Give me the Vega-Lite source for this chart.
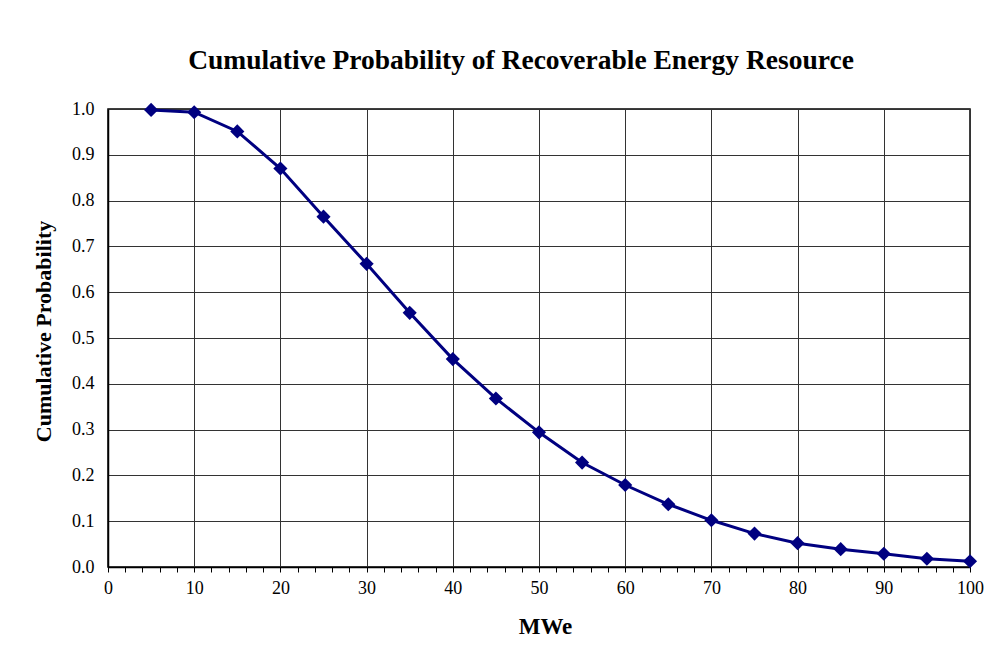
{
  "$schema": "https://vega.github.io/schema/vega-lite/v6.json",
  "autosize": {"type": "none"},
  "width": 862,
  "height": 458,
  "padding": {"left": 108, "top": 109, "right": 35, "bottom": 83},
  "background": "white",
  "config": {
    "view": {"stroke": "#000000", "strokeWidth": 1.5},
    "font": "Liberation Serif"
  },
  "title": {
    "text": "Cumulative Probability of Recoverable Energy Resource",
    "font": "Liberation Serif",
    "fontSize": 27.5,
    "fontWeight": "bold",
    "color": "#000000",
    "anchor": "middle",
    "dx": -18,
    "offset": 26
  },
  "data": {
    "values": [
      {"mwe": 5, "p": 0.998},
      {"mwe": 10, "p": 0.993},
      {"mwe": 15, "p": 0.951},
      {"mwe": 20, "p": 0.870},
      {"mwe": 25, "p": 0.765},
      {"mwe": 30, "p": 0.662},
      {"mwe": 35, "p": 0.555},
      {"mwe": 40, "p": 0.454},
      {"mwe": 45, "p": 0.368},
      {"mwe": 50, "p": 0.294},
      {"mwe": 55, "p": 0.228},
      {"mwe": 60, "p": 0.179},
      {"mwe": 65, "p": 0.137},
      {"mwe": 70, "p": 0.102},
      {"mwe": 75, "p": 0.073},
      {"mwe": 80, "p": 0.052},
      {"mwe": 85, "p": 0.039},
      {"mwe": 90, "p": 0.029},
      {"mwe": 95, "p": 0.018},
      {"mwe": 100, "p": 0.0125}
    ]
  },
  "encoding": {
    "x": {
      "field": "mwe",
      "type": "quantitative",
      "scale": {"domain": [0, 100], "nice": false},
      "axis": {
        "title": "MWe",
        "titleFont": "Liberation Serif",
        "titleFontSize": 23,
        "titleFontWeight": "bold",
        "titleColor": "#000000",
        "titlePadding": 18,
        "titleX": 437,
        "values": [0,2,4,6,8,10,12,14,16,18,20,22,24,26,28,30,32,34,36,38,40,42,44,46,48,50,52,54,56,58,60,62,64,66,68,70,72,74,76,78,80,82,84,86,88,90,92,94,96,98,100],
        "labelExpr": "datum.value % 10 === 0 ? datum.label : ''",
        "labelFont": "Liberation Serif",
        "labelFontSize": 18,
        "labelColor": "#000000",
        "labelPadding": 7,
        "labelFlush": false,
        "labelOverlap": false,
        "ticks": true,
        "tickSize": 5,
        "tickColor": "#000000",
        "domainColor": "#000000",
        "domainWidth": 1.5,
        "grid": true,
        "gridColor": "#333333",
        "gridWidth": 1,
        "gridOpacity": {"condition": {"test": "datum.value % 10 === 0", "value": 1}, "value": 0}
      }
    },
    "y": {
      "field": "p",
      "type": "quantitative",
      "scale": {"domain": [0, 1], "nice": false},
      "axis": {
        "title": "Cumulative Probability",
        "titleFont": "Liberation Serif",
        "titleFontSize": 22,
        "titleFontWeight": "bold",
        "titleColor": "#000000",
        "titlePadding": 16,
        "titleY": 222,
        "values": [0, 0.1, 0.2, 0.3, 0.4, 0.5, 0.6, 0.7, 0.8, 0.9, 1.0],
        "format": ".1f",
        "labelFont": "Liberation Serif",
        "labelFontSize": 18,
        "labelColor": "#000000",
        "labelPadding": 14,
        "ticks": false,
        "domainColor": "#000000",
        "domainWidth": 1.5,
        "grid": true,
        "gridColor": "#333333",
        "gridWidth": 1
      }
    }
  },
  "layer": [
    {
      "mark": {"type": "line", "color": "#000080", "strokeWidth": 3}
    },
    {
      "mark": {"type": "point", "shape": "diamond", "filled": true, "color": "#000080", "size": 200, "opacity": 1}
    }
  ]
}
